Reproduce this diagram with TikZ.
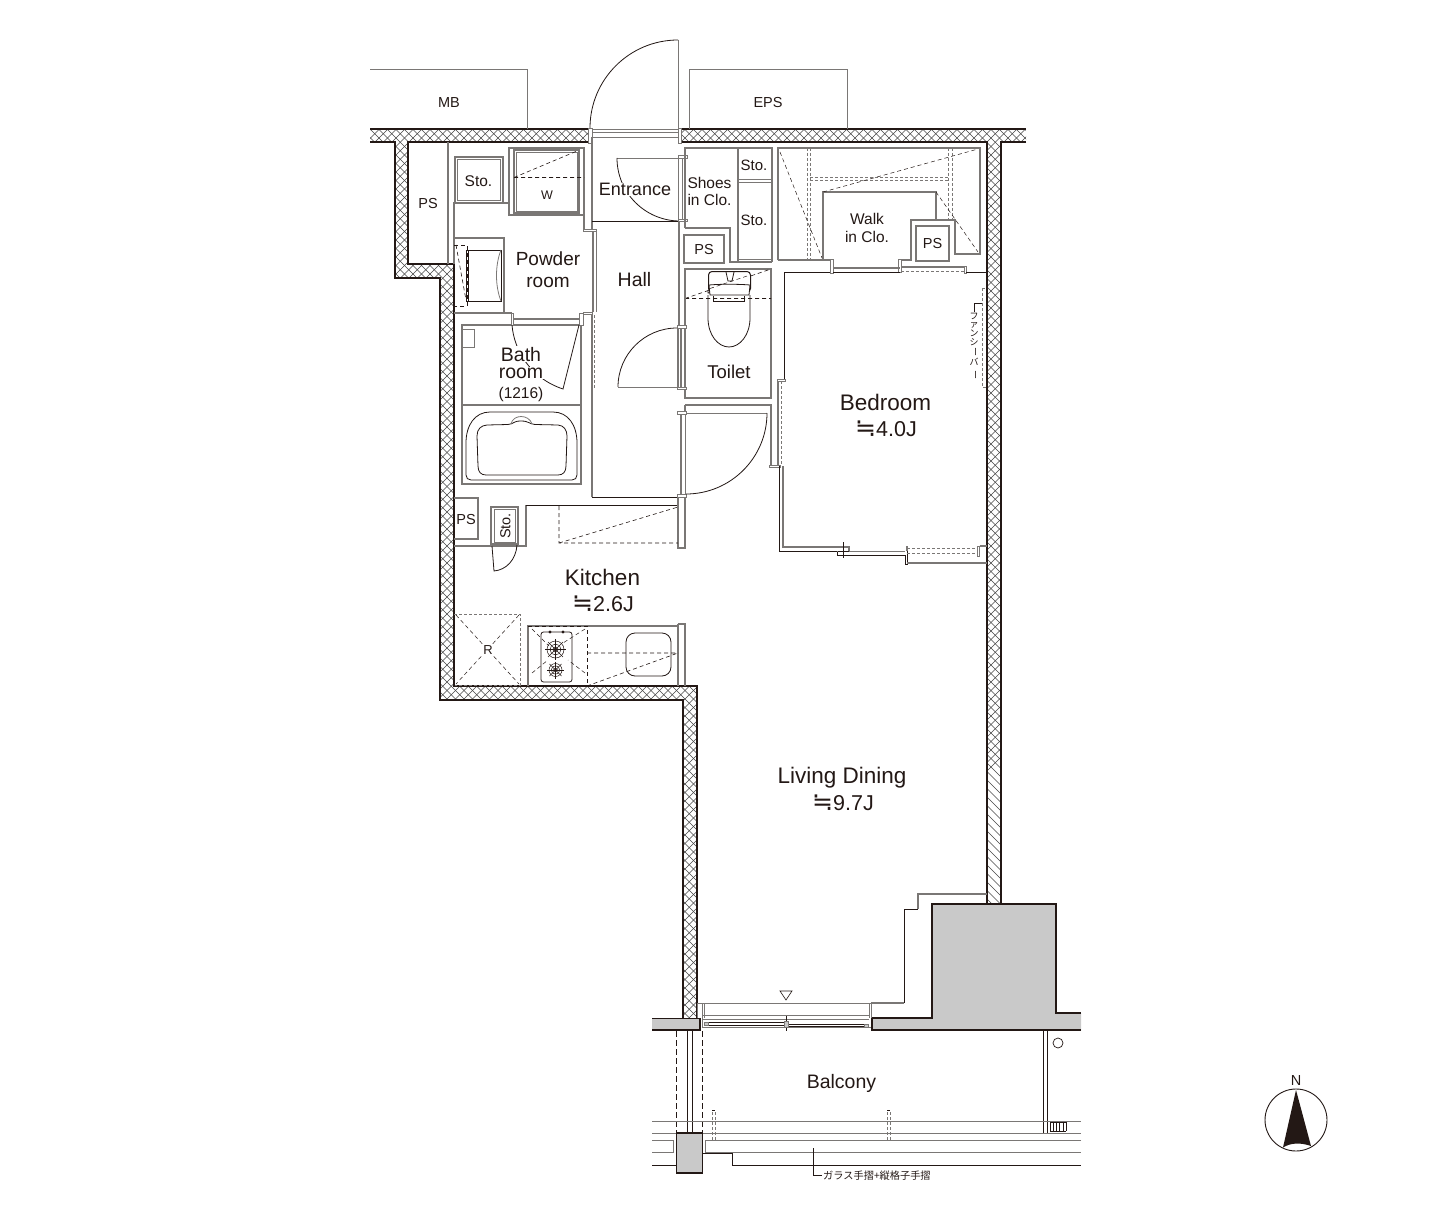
\documentclass[tikz,border=0pt]{standalone}
\usepackage{fontspec}
\usepackage{graphicx}
\setmainfont{Liberation Sans}
\newfontfamily\cjk{Noto Sans CJK JP}
\newfontfamily\djv{DejaVu Sans}
\usetikzlibrary{calc}
\definecolor{dk}{HTML}{231815}
\definecolor{gr}{HTML}{7A7775}
\definecolor{conc}{HTML}{C9C9C9}
\newcommand{\fs}[1]{\fontsize{#1}{#1}\selectfont}
\newcommand{\approxj}{{\djv\fs{25}≒}}
\newcommand{\wallApath}{(370,129)--(590,129)--(590,142)--(408,142)--(408,264)--(454,264)--(454,686)--(697,686)--(697,1018)--(683,1018)--(683,700)--(440,700)--(440,278)--(395,278)--(395,142)--(370,142)--cycle}
\newcommand{\wallBpath}{(681,129)--(1026,129)--(1026,142)--(1001,142)--(1001,904)--(987,904)--(987,142)--(681,142)--cycle}
\tikzset{
  wallline/.style={draw=dk,line width=1.5pt,line cap=butt,line join=miter},
  ln/.style={draw=gr,line width=1.1pt},
  lnt/.style={draw=gr,line width=.8pt},
  ink/.style={draw=dk,line width=.8pt},
  inkb/.style={draw=dk,line width=1pt},
  dsh/.style={draw=dk,line width=.6pt,dash pattern=on 4pt off 3pt},
  dshg/.style={draw=gr,line width=.8pt,dash pattern=on 3pt off 2pt},
  jamb/.style={draw=gr,line width=.8pt,fill=white},
  lab/.style={inner sep=0pt,text=dk,align=center},
  labb/.style={inner sep=0pt,text=dk,anchor=base},
  labw/.style={inner sep=.6pt,text=dk,fill=white,anchor=base},
  hatchline/.style={draw=black!72,line width=.55pt},
}
\begin{document}
\begin{tikzpicture}[x=1pt,y=-1pt]
\useasboundingbox (0,0) rectangle (1452,1220);
\fill[white] (0,0) rectangle (1452,1220);
% --- walls
\begin{scope}
\clip \wallApath \wallBpath;
\foreach \c in {-660,-651.5,...,900}{\draw[hatchline] (0,{0-\c}) -- (1500,{1500-\c});}
\foreach \c in {500,508.5,...,1760}{\draw[hatchline] (0,\c) -- (1500,{\c-1500});}
\end{scope}
\draw[wallline] (370,129)--(590,129)--(590,142)--(408,142)--(408,264)--(454,264)--(454,686)--(697,686)--(697,1018);
\draw[wallline] (683,1018)--(683,700)--(440,700)--(440,278)--(395,278)--(395,142)--(370,142);
\draw[wallline] (1026,129)--(681,129)--(681,142)--(987,142)--(987,904);
\draw[wallline] (1026,142)--(1001,142)--(1001,904);
% --- outside boxes
\draw[lnt] (370,69)--(527,69)--(527,129);
\draw[lnt] (689,129)--(689,69)--(847,69)--(847,129);
\node[lab] (mb) at (449,103) {\fs{14.5}MB};
\node[lab] (eps) at (768,103) {\fs{14.5}EPS};
% --- entrance door
\draw[lnt] (678,129)--(678,40);
\draw[ink] (678,40) .. controls (629.4,40) and (590,79.4) .. (590,128);
\draw[lnt] (590,129)--(679,129) (592,132)--(679,132) (592,137)--(679,137);
\draw[jamb] (588.5,128) rectangle (592,143);
\draw[jamb] (678,128) rectangle (681.5,143);
% --- PS / Sto / W
\draw[ln] (448,142)--(448,264);
\node[lab] (ps1) at (428,204) {\fs{14.5}PS};
\draw[ln] (455,157) rectangle (503,203);
\draw[lnt] (457.5,159.5) rectangle (500.5,200.5);
\node[lab] (sto1) at (478.5,181) {\fs{15.5}Sto.};
\draw[ln] (454,264)--(454,203)--(510,203);
\draw[ln] (509,148) rectangle (584,215);
\draw[ln] (514,150) rectangle (579,213);
\draw[lnt] (516.5,152) rectangle (577,211);
\draw[dsh] (514,177.5)--(584,177.5) (514,177.5)--(577,151);
\node[lab] (w) at (547,195) {\fs{12.5}W};
\draw[ln] (584,215)--(584,230);
\draw[ln] (592,137)--(592,229);
\draw[jamb] (583,229) rectangle (596,231.5);
% Entrance inner
\draw[inkb] (592,221)--(680,221);
\draw[lnt] (680,158)--(617,158);
\draw[ink] (617,158) .. controls (617,192.8) and (645.2,221) .. (680,221);
\draw[lnt] (678.5,157)--(678.5,220) (682.5,157)--(682.5,220);
\draw[jamb] (678,155.5) rectangle (687,158);
\draw[jamb] (678,219) rectangle (687,221.5);
\node[labw] (entrance) at (635,195.5) {\fs{18}Entrance};
% hall left wall
\draw[ln] (593,231)--(593,312) (596.5,231)--(596.5,312);
\draw[jamb] (583,312) rectangle (592.5,314.5);
\draw[ln] (592,314)--(592,497);
\draw[inkb] (591.5,497)--(686,497);
\draw[dshg] (594.5,315)--(594.5,388);
% Powder washstand
\draw[ln] (454,238)--(504,238)--(504,313);
\draw[ln] (454,313)--(512,313);
\draw[ink] (466,250)--(501,250)--(501,301)--(466,301)--cycle;
\draw[lnt] (501,250) .. controls (495,265) and (495,286) .. (501,301);
\draw[ink] (468,250)--(468,301);
\draw[dsh] (454,245)--(467,245)--(467,306)--(454,306);
\draw[dsh] (456,245)--(466,300);
\node[labb] (powder) at (548,265) {\fs{19}Powder};
\node[labb] (powder2) at (548,287.5) {\fs{19}room};
% Bath room
\draw[ln] (462,325)--(462,484)--(581,484)--(581,325)--cycle;
\draw[ln] (462,405)--(581,405);
\draw[lnt] (462,329)--(474,329)--(474,347)--(462,347);
\draw[ln] (513,319)--(579,319) (513,325)--(579,325);
\draw[jamb] (511,313) rectangle (513.5,325);
\draw[jamb] (579,313) rectangle (583,325);
\draw[ink] (512,325) .. controls (514,350) and (530,378) .. (563,389)--(579,325);
\node[labw] (bath) at (521,361) {\fs{19.5}Bath};
\node[labw] (room) at (521,378.5) {\fs{19.5}room};
\node[labw] (size) at (521,398) {\fs{15.5}(1216)};
% Tub
\draw[ink] (466,443) .. controls (466,425) and (475,412) .. (490,412) -- (553,412) .. controls (568,412) and (577,425) .. (577,443) -- (577,475) .. controls (577,478) and (575,480) .. (572,480) -- (471,480) .. controls (468,480) and (466,478) .. (466,475) -- cycle;
\draw[ink] (477,436) .. controls (477,429) and (481,425.5) .. (487,425) -- (508,424.5) .. controls (514,424) and (513,421) .. (521,421) .. controls (529,421) and (529,424) .. (535,424.5) -- (558,425) .. controls (564,425.5) and (567,430) .. (567,436) -- (566,466) .. controls (566,472) and (563,475) .. (558,475) -- (486,475) .. controls (481,475) and (478,472) .. (478,466) -- cycle;
\draw[lnt] (511,424) .. controls (513,414) and (529,414) .. (532,424);
% --- Shoes closet
\draw[ln] (685,228)--(685,148)--(772,148)--(772,262);
\draw[ln] (685,228)--(730,228)--(730,262)--(772,262);
\draw[ln] (738,148)--(738,262);
\draw[lnt] (738,179)--(771,179) (738,182)--(771,182) (738,259)--(771,259);
\node[labb] (shoes) at (709.5,189) {\fs{15.5}Shoes};
\node[labb] (shoes2) at (709.5,205) {\fs{15.5}in Clo.};
\node[lab] (sto2) at (754,165) {\fs{15}Sto.};
\node[lab] (sto3) at (754,220.5) {\fs{15}Sto.};
\draw[ln] (684,235) rectangle (724,263);
\node[lab] (ps2) at (704,249.5) {\fs{14.5}PS};
% Toilet
\draw[ln] (685,269) rectangle (771,398);
\draw[dsh] (685,298.5)--(771,298.5) (685,298.5)--(771,269);
\draw[inkb,fill=white,rounded corners=3.5pt] (708.5,271.5) rectangle (750.5,292);
\draw[ink] (708,290) -- (708,293) .. controls (720,290) and (738,290) .. (750,291);
\draw[ink,fill=white] (709,285)--(710,295)--(749,295)--(750,285) .. controls (738,284) and (720,284) .. (709,285);
\draw[dsh,line width=.5pt] (710,288.5)--(750,275);
\draw[ink] (713,296)--(713,301)--(744,301)--(744,296);
\draw[ink] (726,272)--(728,281)--(732,281)--(734,272);
\draw[ink] (708,295)--(708,318) .. controls (708,335) and (718,347) .. (729,347) .. controls (740,347) and (750,335) .. (750,318)--(750,295);
\node[lab] (toilet) at (729,372) {\fs{18.5}Toilet};
% Hall vertical and doors
\draw[ln] (679,221)--(679,326);
\draw[ln] (685,269)--(685,326);
\draw[ln] (678,327)--(678,387) (681,327)--(681,387);
\draw[jamb] (677,325.5) rectangle (686,328);
\draw[jamb] (677,387) rectangle (686,389.5);
\draw[lnt] (618,387)--(677,387);
\draw[ink] (618,387) .. controls (618,354.4) and (644.4,328) .. (677,328);
\draw[ln] (685,389)--(685,398);
\draw[ln] (685,405)--(771,405)--(771,465);
\draw[ln] (685,405)--(685,412);
\draw[jamb] (677,411.5) rectangle (686,414);
\draw[jamb] (677,494.5) rectangle (686,497);
\draw[ln] (681,414)--(681,495) (685.5,414)--(685.5,495);
\draw[lnt] (686,413)--(767,413);
\draw[ink] (767,413) .. controls (767,457.7) and (730.7,494) .. (686,494);
\node[lab] (hall) at (634.5,280) {\fs{19.5}Hall};
% --- Walk in closet
\draw[ln] (778,260)--(778,148)--(980,148)--(980,254)--(955,254)--(955,220)--(911,220)--(911,260)--(901,260);
\draw[ln] (778,260)--(830,260);
\draw[ln] (823,260)--(823,192)--(936,192)--(936,220);
\draw[ln] (916,226) rectangle (949,261);
\node[lab] (ps3) at (932.5,244) {\fs{14.5}PS};
\node[labb] (walk) at (867,224) {\fs{15.5}Walk};
\node[labb] (walk2) at (867,242) {\fs{15.5}in Clo.};
\draw[dshg] (807,148)--(807,260) (810.5,148)--(810.5,260);
\draw[dshg] (948,148)--(948,220) (952,148)--(952,220);
\draw[dshg] (810,177)--(948,177) (810,180)--(948,180);
\draw[dsh,line width=.5pt] (780,152)--(822,258) (936,192)--(978,252) (823,192)--(978,149);
\draw[jamb] (830.5,259) rectangle (833,273);
\draw[jamb] (898.5,259) rectangle (901,272);
\draw[ln] (833,268)--(900,268);
\draw[inkb] (833,272)--(900,272);
\draw[ln] (901,267)--(964,267);
\draw[dshg] (901,271)--(964,271);
\draw[jamb] (964,266) rectangle (966.5,273);
\draw[ink] (966,272)--(987,272);
\draw[ink] (784,379)--(784,272)--(830,272);
% Fan
\draw[dshg] (982,288)--(987,288);
\draw[dshg] (982,288)--(982,387)--(987,387);
\draw[ink,line width=.5pt] (982,303)--(974.5,303)--(974.5,312);
\node[lab,anchor=north,text width=12pt] (fan) at (974,312.5) {\cjk\fontsize{9}{8.8}\selectfont フ\\ァ\\ン\\シ\\\rotatebox[origin=c]{-90}{ー}\\バ\\\rotatebox[origin=c]{-90}{ー}};
% Bedroom lower
\draw[jamb] (777,379) rectangle (785,381.5);
\draw[ln] (778,381)--(778,465);
\draw[dshg] (781,381)--(781,465);
\draw[jamb] (769.5,465) rectangle (780,467.5);
\draw[ln] (783,548)--(783,466);
\draw[inkb] (779.5,465.5)--(779.5,551)--(849,551);
\draw[ln] (783,547)--(849,547)--(849,551);
\draw[ln] (837,551.5)--(905,551.5);
\draw[ink] (837,551.5)--(837,555)--(905,555)--(905,564)--(907.5,564)--(907.5,551);
\draw[ink] (843,542)--(843,558);
\draw[ink] (838,551)--(849,551);
\draw[ln] (907,563)--(987,563);
\draw[dshg] (907,548.5)--(977,548.5) (907,553)--(977,553);
\draw[ln] (907,546)--(907,551);
\draw[jamb] (977,546) rectangle (979.5,556);
\draw[ln] (979.5,546)--(987,546);
\node[labb] (bedroom) at (885.5,410) {\fs{22.5}Bedroom};
\node[labb] (bedroom2) at (886,436) {\fs{21.5}\approxj{}4.0J};
% --- kitchen upper
\draw[ln] (454,498)--(478,498)--(478,539)--(454,539);
\node[lab] (ps4) at (466,519.5) {\fs{14.5}PS};
\draw[ln] (454,546)--(526,546)--(526,505);
\draw[inkb] (526,505)--(678,505);
\draw[ln] (678,497)--(678,548)--(685,548)--(685,497);
\draw[ln] (491,507) rectangle (518,544);
\draw[lnt] (494,509) rectangle (515.5,542);
\node[lab,rotate=90] (sto4) at (505.5,526) {\fs{14.5}Sto.};
\draw[ink] (492,546)--(494,571) .. controls (506,570) and (516,560) .. (517,545);
\draw[dsh] (559,506)--(559,543)--(678,543) (559,543)--(678,507);
\draw[dshg] (678,507)--(678,543);
\node[labb] (kitchen) at (602.5,585) {\fs{22.5}Kitchen};
\node[labb] (kitchen2) at (603,611) {\fs{21.5}\approxj{}2.6J};
% --- kitchen bottom
\draw[dshg] (454,614)--(520,614)--(520,685)--(455,685);
\draw[dsh,line width=.5pt] (456,615)--(519,684) (519,615)--(456,684);
\node[labw,anchor=center] (r) at (488,650) {\fs{13}R};
\draw[ln] (528,686)--(528,626)--(678,626);
\draw[ln] (678,624)--(685,624)--(685,686);
\draw[ln] (678,624)--(678,686);
\draw[ink,rounded corners=2.5pt] (541,632) rectangle (572,682);
\fill[dk] (550,632) circle[radius=1.6pt] (563,632) circle[radius=1.6pt];
\foreach \bx/\by/\br in {555.5/649.5/8.5,555.5/670/6.5}{
  \draw[ink,line width=.5pt] (\bx,\by) circle[radius=\br pt];
  \draw[ink,line width=.5pt] (\bx,\by) circle[radius=.65*\br pt];
  \draw[ink,line width=.5pt] (\bx,\by) circle[radius=.3*\br pt];
  \draw[ink,line width=.5pt] ({\bx-\br-2},\by)--({\bx+\br+2},\by) (\bx,{\by-\br-2})--(\bx,{\by+\br+2});
  \draw[ink,line width=.5pt] ({\bx-.7*\br-1.5},{\by-.7*\br-1.5})--({\bx+.7*\br+1.5},{\by+.7*\br+1.5}) ({\bx-.7*\br-1.5},{\by+.7*\br+1.5})--({\bx+.7*\br+1.5},{\by-.7*\br-1.5});
}
\draw[dsh] (528,626)--(587,626)--(587,686);
\draw[dsh,line width=.5pt] (532,629)--(549,646) (585,629)--(563,643) (532,673)--(548,660) (585,673)--(568,660);
\draw[ink,rounded corners=9pt] (626,633) rectangle (671,676);
\draw[dsh] (587,653)--(678,653) (587,686)--(678,653);
% --- living
\node[labb] (living) at (842,783) {\fs{22.5}Living Dining};
\node[labb] (living2) at (843,810) {\fs{21.5}\approxj{}9.7J};
% --- concrete
\fill[conc] (872,1030)--(872,1018)--(932,1018)--(932,904)--(1056,904)--(1056,1013)--(1081,1013)--(1081,1030)--cycle;
\draw[draw=dk,line width=1.7pt] (1081,1030)--(872,1030)--(872,1018)--(932,1018)--(932,904)--(1056,904)--(1056,1013)--(1081,1013);
\fill[conc] (652,1018) rectangle (700,1030);
\draw[inkb] (652,1018)--(700,1018);
\draw[draw=dk,line width=1.7pt] (652,1030)--(700,1030)--(700,1018);
% window
\draw[lnt] (697,1003)--(702,1003) (697,1003)--(697,1018);
\draw[lnt] (702,1003)--(871,1003)--(871,1018) (702,1003)--(702,1027)--(871,1027) (704,1003)--(704,1018) (869,1003)--(869,1018);
\draw[lnt] (702,1015)--(869,1015) (702,1019)--(869,1019);
\draw[ink] (704,1022)--(786,1022) (704,1025)--(786,1025) (786,1024)--(867,1024) (786,1026)--(867,1026);
\draw[ink] (786,1016)--(786,1031);
\draw[lnt,fill=conc] (704,1022) rectangle (708,1025) (864,1024) rectangle (868,1027) (784,1021) rectangle (788,1027);
\draw[ink,line width=.6pt] (780,991)--(792,991)--(786,1000)--cycle;
\draw[ln] (871,1003)--(904,1003);
\draw[ink] (904,1003)--(904,909)--(918,909);
\draw[ln] (918,909)--(918,894)--(987,894);
% --- balcony
\draw[dsh,dash pattern=on 6pt off 3pt] (676,1031)--(676,1133) (702,1031)--(702,1133);
\draw[ink] (687.5,1031)--(687.5,1133) (692,1031)--(692,1133);
\draw[ink] (1043,1031)--(1043,1133) (1047,1031)--(1047,1133);
\draw[lnt] (1043,1133)--(1047,1133);
\draw[ink,line width=.7pt] (1058,1043) circle[radius=5pt];
\node[labb] (balcony) at (841.5,1088) {\fs{19.5}Balcony};
\draw[lnt] (652,1121)--(1081,1121) (652,1133)--(1081,1133);
\draw[lnt] (652,1140)--(673,1140)--(673,1152)--(652,1152);
\draw[lnt] (1081,1140)--(705,1140)--(705,1152)--(1081,1152);
\draw[ink,line width=.6pt] (652,1165)--(676,1165);
\draw[ink,line width=.6pt] (703,1153)--(732,1153)--(732,1165)--(1081,1165);
\foreach \gx in {1050,1053.2,...,1066}{\draw[ink,line width=.4pt] (\gx,1122)--(\gx,1131);}
\draw[ink,line width=.4pt] (1050,1122)--(1066,1122) (1050,1131)--(1066,1131);
\draw[dshg,line width=.6pt] (712,1112)--(712,1140) (715,1112)--(715,1140) (887,1112)--(887,1140) (890,1112)--(890,1140);
\draw[ink,line width=.6pt] (712,1110.5)--(715,1110.5) (887,1110.5)--(890,1110.5);
\draw[draw=dk,line width=1.4pt,fill=conc] (676.5,1133) rectangle (702.5,1173);
\draw[ink,line width=.6pt] (813,1148)--(813,1175)--(822,1175);
\node[lab,anchor=west] (rail) at (823,1176) {\cjk\fontsize{10.2}{10.2}\selectfont ガラス手摺+縦格子手摺};
% --- compass
\draw[ink,line width=.9pt] (1296,1120) circle[radius=31pt];
\fill[dk] (1296,1090)--(1311,1146) .. controls (1301,1142.5) and (1291,1142.5) .. (1283,1147.5)--cycle;
\node[lab] (north) at (1296,1080.5) {\fs{14.5}N};
\end{tikzpicture}
\end{document}
